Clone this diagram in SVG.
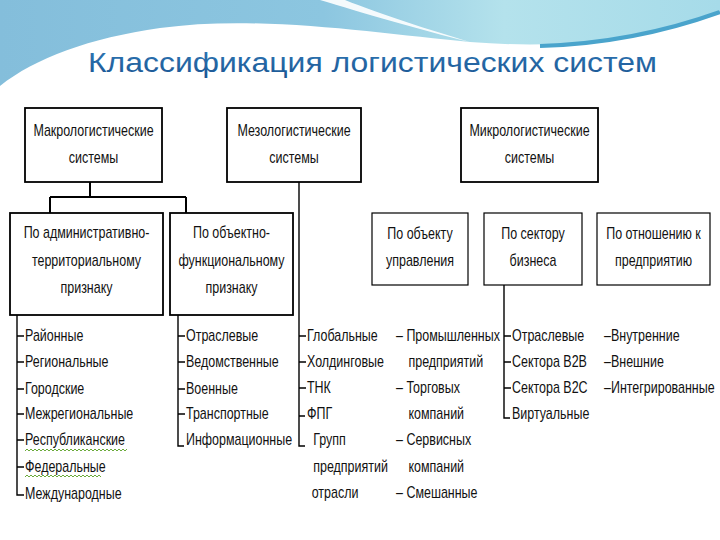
<svg xmlns="http://www.w3.org/2000/svg" width="720" height="540" viewBox="0 0 720 540">
<defs>
<linearGradient id="sky" x1="0" y1="0" x2="1" y2="0">
<stop offset="0" stop-color="#84bedb"/>
<stop offset="0.45" stop-color="#8cc6e0"/>
<stop offset="0.7" stop-color="#b4e2ec"/>
<stop offset="1" stop-color="#a6dbe9"/>
</linearGradient>
<linearGradient id="titleg" x1="0" y1="0" x2="0" y2="1">
<stop offset="0" stop-color="#2f78b6"/>
<stop offset="1" stop-color="#1b5592"/>
</linearGradient>
</defs>
<style>
.t{font-family:"Liberation Sans",Arial,sans-serif;font-size:16px;fill:#111}
.m{text-anchor:middle}
.box1{fill:#fff;stroke:#000;stroke-width:1.8}
.box2{fill:#fff;stroke:#000;stroke-width:1.2}
.ln{stroke:#000;stroke-width:1.4;fill:none}
.lnb{stroke:#000;stroke-width:2;fill:none}
.wv{stroke:#6aaa3a;stroke-width:1;fill:none}
</style>
<rect width="720" height="540" fill="#fff"/>
<g id="header">
<path d="M0,0 H720 V10 C660,38 570,50 470,42 C380,34 260,14 160,28 C90,38 35,58 0,86 Z" fill="url(#sky)"/>
<path d="M320,0 C360,12 420,30 470,42 C430,30 380,14 345,0 Z" fill="#ffffff" opacity="0.9"/>
<path d="M540,46 C610,44 670,30 720,12" stroke="#4aa4cc" stroke-width="4" fill="none"/>
<text x="88" y="72" font-family="'Liberation Sans',Arial,sans-serif" font-size="27" fill="url(#titleg)" textLength="569" lengthAdjust="spacingAndGlyphs">Классификация логистических систем</text>
</g>
<g id="connectors">
<path class="lnb" d="M90,182 V197 M50,197 H186 M50,197 V213 M186,197 V213"/>
<path class="ln" d="M299,182 V446 H305"/>
<path class="ln" d="M299,336 H306 M299,362 H306 M299,388 H306 M299,416 H305"/>
<path class="ln" d="M504,285 V418 H510"/>
<path class="ln" d="M504,336 H511 M504,362 H511 M504,388 H511"/>
<path class="ln" d="M17,315 V495 H24"/>
<path class="ln" d="M17,336 H24 M17,362 H24 M17,389 H24 M17,414 H24 M17,440 H24 M17,467 H24"/>
<path class="ln" d="M178,315 V446 H184"/>
<path class="ln" d="M178,336 H185 M178,362 H185 M178,389 H185 M178,414 H185"/>
</g>
<g id="macro">
<rect class="box1" x="25" y="108" width="137" height="74"/>
<g transform="translate(93.5,0) scale(0.78,1)"><text class="t m" x="0" y="136">Макрологистические</text><text class="t m" x="0" y="163">системы</text></g>
</g>
<g id="meso">
<rect class="box1" x="227" y="108" width="134" height="74"/>
<g transform="translate(294,0) scale(0.78,1)"><text class="t m" x="0" y="136">Мезологистические</text><text class="t m" x="0" y="163">системы</text></g>
</g>
<g id="micro">
<rect class="box1" x="461" y="108" width="137" height="74"/>
<g transform="translate(529.5,0) scale(0.78,1)"><text class="t m" x="0" y="136">Микрологистические</text><text class="t m" x="0" y="163">системы</text></g>
</g>
<g id="admin">
<rect class="box1" x="10" y="213" width="153" height="102"/>
<g transform="translate(86.5,0) scale(0.78,1)"><text class="t m" x="0" y="238">По административно-</text><text class="t m" x="0" y="266">территориальному</text><text class="t m" x="0" y="293">признаку</text></g>
</g>
<g id="objfunc">
<rect class="box1" x="170" y="213" width="123" height="102"/>
<g transform="translate(231.5,0) scale(0.78,1)"><text class="t m" x="0" y="238">По объектно-</text><text class="t m" x="0" y="266">функциональному</text><text class="t m" x="0" y="293">признаку</text></g>
</g>
<g id="objmgmt">
<rect class="box2" x="372" y="213" width="96" height="72"/>
<g transform="translate(420,0) scale(0.78,1)"><text class="t m" x="0" y="239">По объекту</text><text class="t m" x="0" y="266">управления</text></g>
</g>
<g id="business">
<rect class="box2" x="484" y="213" width="98" height="72"/>
<g transform="translate(533,0) scale(0.78,1)"><text class="t m" x="0" y="239">По сектору</text><text class="t m" x="0" y="266">бизнеса</text></g>
</g>
<g id="relation">
<rect class="box2" x="597" y="213" width="113" height="72"/>
<g transform="translate(653.5,0) scale(0.78,1)"><text class="t m" x="0" y="239">По отношению к</text><text class="t m" x="0" y="266">предприятию</text></g>
</g>
<g id="admin-list" transform="translate(25,0) scale(0.78,1)">
<text class="t" x="0" y="341">Районные</text>
<text class="t" x="0" y="367">Региональные</text>
<text class="t" x="0" y="394">Городские</text>
<text class="t" x="0" y="419">Межрегиональные</text>
<text class="t" x="0" y="445">Республиканские</text>
<text class="t" x="0" y="472">Федеральные</text>
<text class="t" x="0" y="499">Международные</text>
</g>
<path class="wv" d="M25,451 l2,-2 2,2 2,-2 2,2 2,-2 2,2 2,-2 2,2 2,-2 2,2 2,-2 2,2 2,-2 2,2 2,-2 2,2 2,-2 2,2 2,-2 2,2 2,-2 2,2 2,-2 2,2 2,-2 2,2 2,-2 2,2 2,-2 2,2 2,-2 2,2 2,-2 2,2 2,-2 2,2 2,-2 2,2 2,-2 2,2 2,-2 2,2 2,-2 2,2 2,-2 2,2 2,-2 2,2 2,-2 2,2 2,-2"/>
<path class="wv" d="M25,477 l2,-2 2,2 2,-2 2,2 2,-2 2,2 2,-2 2,2 2,-2 2,2 2,-2 2,2 2,-2 2,2 2,-2 2,2 2,-2 2,2 2,-2 2,2 2,-2 2,2 2,-2 2,2 2,-2 2,2 2,-2 2,2 2,-2 2,2 2,-2 2,2 2,-2 2,2 2,-2 2,2 2,-2 2,2"/>
<g id="objfunc-list" transform="translate(186,0) scale(0.78,1)">
<text class="t" x="0" y="341">Отраслевые</text>
<text class="t" x="0" y="367">Ведомственные</text>
<text class="t" x="0" y="394">Военные</text>
<text class="t" x="0" y="419">Транспортные</text>
<text class="t" x="0" y="445">Информационные</text>
</g>
<g id="meso-list" transform="translate(307,0) scale(0.78,1)">
<text class="t" x="0" y="341">Глобальные</text>
<text class="t" x="0" y="367">Холдинговые</text>
<text class="t" x="0" y="393">ТНК</text>
<text class="t" x="0" y="419">ФПГ</text>
<text class="t" x="8" y="445">Групп</text>
<text class="t" x="8" y="472">предприятий</text>
<text class="t" x="6" y="498">отрасли</text>
</g>
<g id="objmgmt-list" transform="translate(396,0) scale(0.78,1)">
<text class="t" x="0" y="341">– Промышленных</text>
<text class="t" x="16" y="367">предприятий</text>
<text class="t" x="0" y="393">– Торговых</text>
<text class="t" x="16" y="419">компаний</text>
<text class="t" x="0" y="445">– Сервисных</text>
<text class="t" x="16" y="472">компаний</text>
<text class="t" x="0" y="498">– Смешанные</text>
</g>
<g id="business-list" transform="translate(512,0) scale(0.78,1)">
<text class="t" x="0" y="341">Отраслевые</text>
<text class="t" x="0" y="367">Сектора B2B</text>
<text class="t" x="0" y="393">Сектора B2C</text>
<text class="t" x="0" y="419">Виртуальные</text>
</g>
<g id="relation-list" transform="translate(604,0) scale(0.78,1)">
<text class="t" x="0" y="341">–Внутренние</text>
<text class="t" x="0" y="367">–Внешние</text>
<text class="t" x="0" y="393">–Интегрированные</text>
</g>
</svg>
